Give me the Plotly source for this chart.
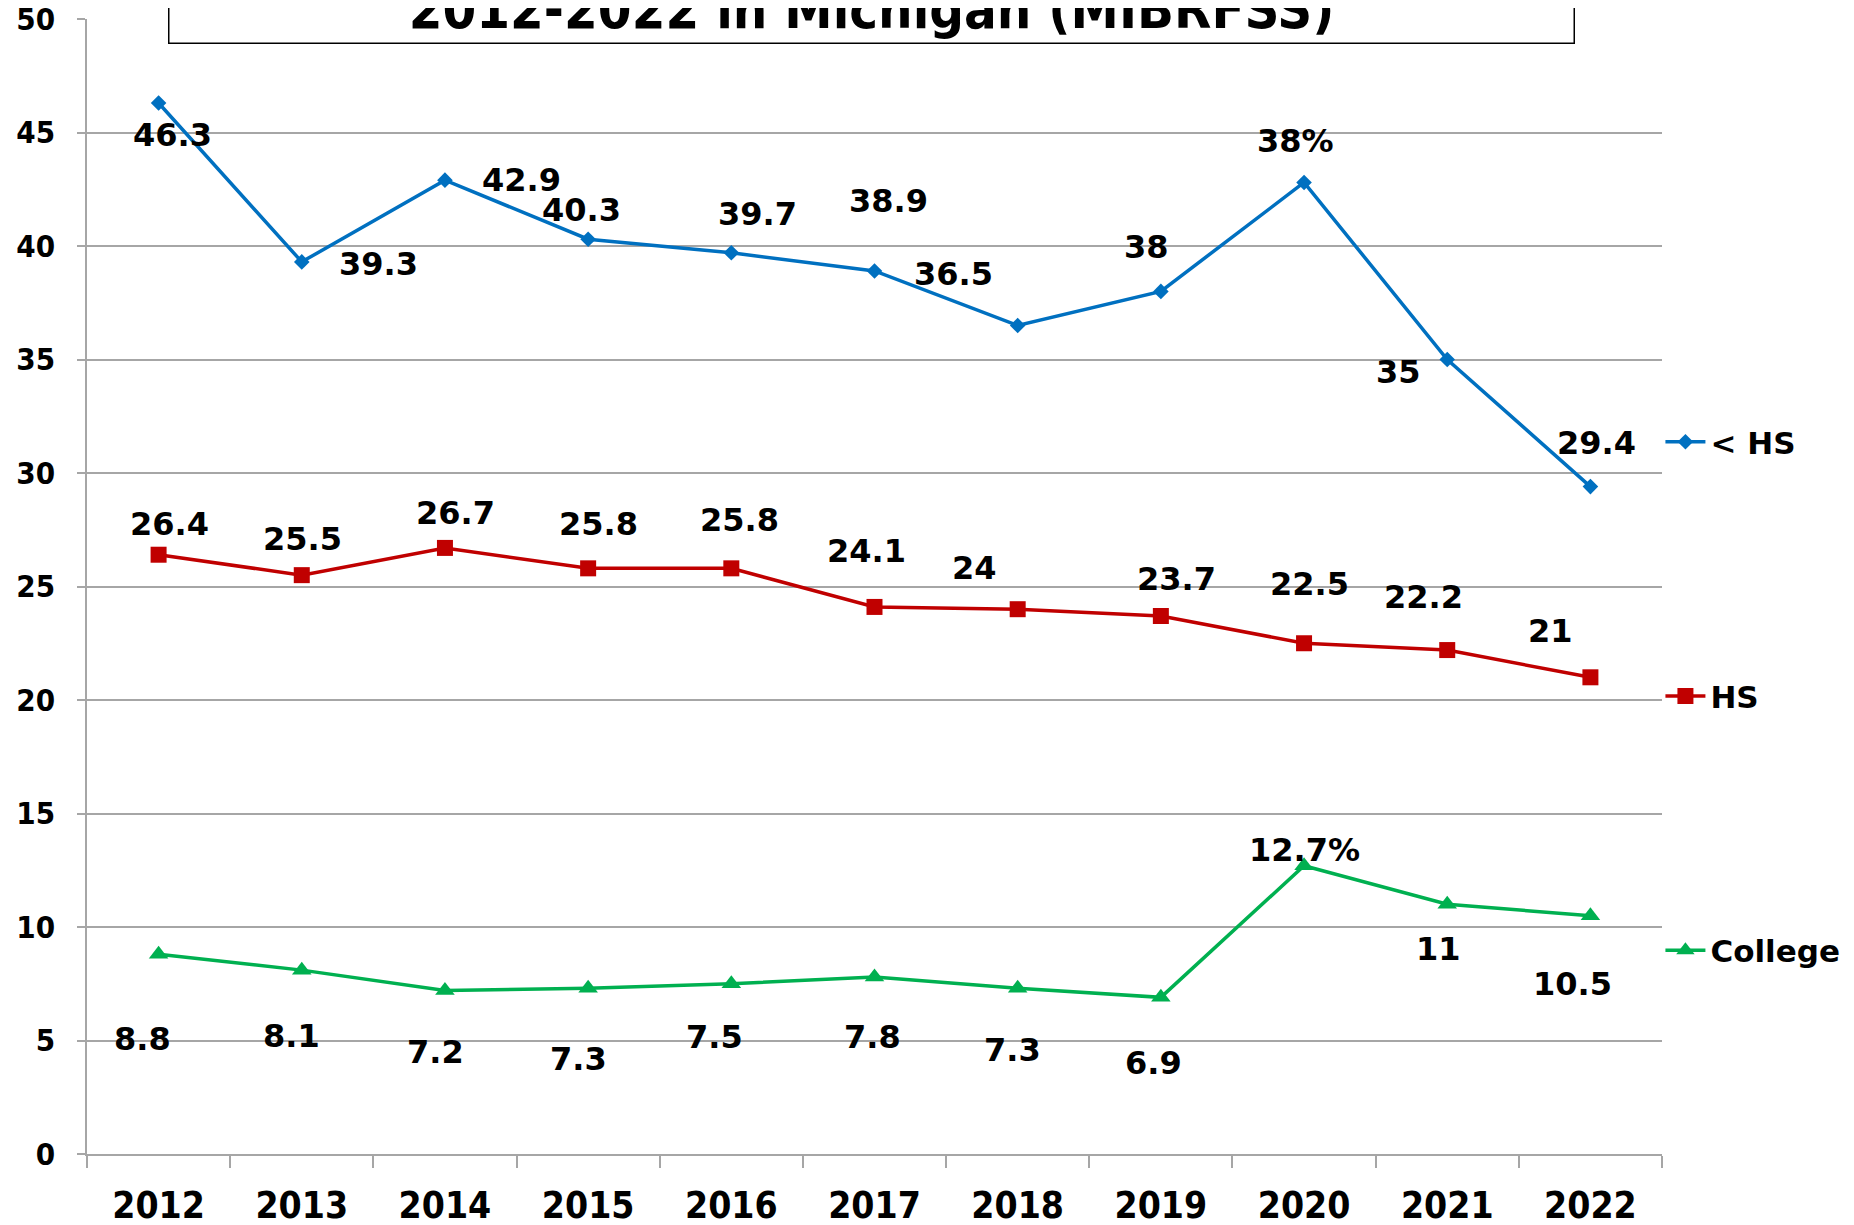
import plotly.graph_objects as go

years = ["2012", "2013", "2014", "2015", "2016", "2017", "2018", "2019", "2020", "2021", "2022"]
lt_hs = [46.3, 39.3, 42.9, 40.3, 39.7, 38.9, 36.5, 38.0, 42.8, 35.0, 29.4]
hs = [26.4, 25.5, 26.7, 25.8, 25.8, 24.1, 24.0, 23.7, 22.5, 22.2, 21.0]
college = [8.8, 8.1, 7.2, 7.3, 7.5, 7.8, 7.3, 6.9, 12.7, 11.0, 10.5]

lt_hs_labels = ["46.3", "39.3", "42.9", "40.3", "39.7", "38.9", "36.5", "38", "38%", "35", "29.4"]
hs_labels = ["26.4", "25.5", "26.7", "25.8", "25.8", "24.1", "24", "23.7", "22.5", "22.2", "21"]
college_labels = ["8.8", "8.1", "7.2", "7.3", "7.5", "7.8", "7.3", "6.9", "12.7%", "11", "10.5"]

# label offsets (pixels, x right / y down) from each point
lt_hs_off = [(12, 27), (65, 2), (65, 0), (-6, -25), (22, -33), (12, -59), (-54, -44), (-12, -38), (-7, -35), (-41, 11), (5, -37)]
hs_off = [(9, -26), (1, -31), (9, -30), (9, -38), (7, -41), (-7, -47), (-37, -35), (13, -31), (5, -50), (-20, -45), (-34, -39)]
college_off = [(-14, 72), (-9, 56), (-8, 52), (-8, 60), (-14, 45), (-2, 51), (-4, 52), (-6, 56), (0, -13), (-7, 38), (-15, 58)]

title_text = "2012-2022 in Michigan (MIBRFSS)"

BLUE = "#0070C0"
RED = "#C00000"
GREEN = "#00B050"
GRID = "#A6A6A6"

fig = go.Figure()
series = [
    ("< HS", lt_hs, BLUE, "diamond", 12, lt_hs_labels, lt_hs_off),
    ("HS", hs, RED, "square", 16, hs_labels, hs_off),
    ("College", college, GREEN, "triangle-up", 17, college_labels, college_off),
]
for name, vals, col, sym, ms, labs, offs in series:
    fig.add_trace(go.Scatter(
        x=years, y=vals, name=name, mode="lines+markers",
        line=dict(color=col, width=3.5),
        marker=dict(symbol=sym, size=ms, color=col),
        legendgroup=name,
    ))
    for i, (y, t, (dx, dy)) in enumerate(zip(vals, labs, offs)):
        fig.add_annotation(
            x=i, y=y, xref="x", yref="y", text=t, showarrow=False,
            xshift=dx * 1.18, yshift=-dy * 1.18,
            font=dict(family="DejaVu Sans", size=32, color="black", weight="bold"),
        )

fig.add_annotation(
    x=0.4978, y=0.978, xref="paper", yref="paper", xanchor="center", yanchor="bottom",
    text=title_text, showarrow=False, width=1400, height=120, valign="bottom",
    bordercolor="black", borderwidth=1.5, borderpad=2,
    font=dict(family="DejaVu Sans Condensed", size=54, color="black", weight="bold"),
)

fig.update_layout(
    width=1854, height=1225,
    margin=dict(l=79, r=200, t=11, b=79, autoexpand=False),
    plot_bgcolor="white", paper_bgcolor="white",
    showlegend=True,
    legend=dict(
        x=0.999, y=0.651, xanchor="left", yanchor="top",
        traceorder="grouped", tracegroupgap=211,
        font=dict(family="DejaVu Sans", size=31, color="black", weight="bold"),
        bgcolor="rgba(0,0,0,0)", itemwidth=40,
    ),
)
fig.update_xaxes(
    type="category", range=[-0.5, 10.5], autorange=False,
    tickson="boundaries", ticks="outside", ticklen=12, tickangle=0, ticklabelstandoff=18,
    tickcolor=GRID, tickwidth=1.5, showline=True, linecolor=GRID, linewidth=1.5,
    showgrid=False, automargin=False, ticklabeloverflow="allow",
    tickfont=dict(family="DejaVu Sans Condensed", size=37, color="black", weight="bold"),
)
fig.update_yaxes(
    range=[0, 50], autorange=False, dtick=5, ticks="outside", ticklen=8, tickcolor=GRID, tickwidth=1.5,
    showline=True, linecolor=GRID, linewidth=1.5, automargin=False, ticklabelstandoff=16,
    ticklabeloverflow="allow",
    showgrid=True, gridcolor=GRID, gridwidth=1.5, zeroline=False,
    tickfont=dict(family="DejaVu Sans Condensed", size=31, color="black", weight="bold"),
)

fig.write_html("out.html")
